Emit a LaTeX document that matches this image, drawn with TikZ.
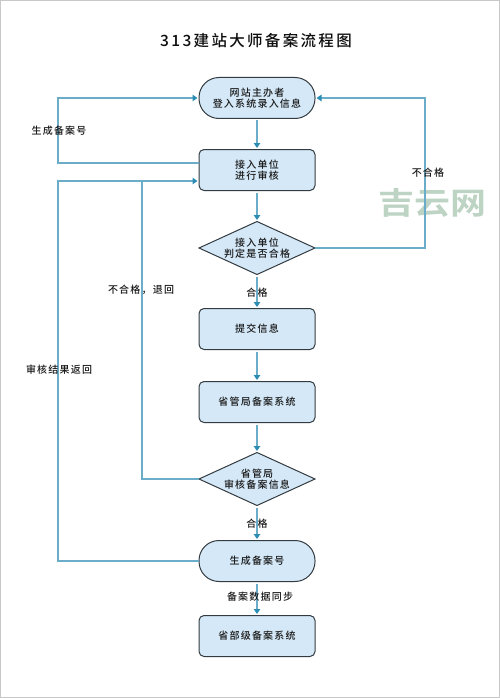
\documentclass[tikz,border=0pt]{standalone}
\usepackage{fontspec}
\setmainfont{Noto Sans CJK SC}
\newfontfamily\spacedfont[LetterSpace=12]{Noto Sans CJK SC Medium}
\newfontfamily\titlefont[LetterSpace=15]{Noto Sans CJK SC Medium}
\newfontfamily\markfont{Noto Sans CJK SC Bold}
\usetikzlibrary{arrows.meta,shapes.geometric,positioning}
\definecolor{linkc}{HTML}{6BADC8}
\definecolor{tipc}{HTML}{2C8DB4}
\definecolor{fillc}{HTML}{D4E8F7}
\definecolor{edgec}{HTML}{333B40}
\definecolor{markc}{HTML}{BDD3C3}
\definecolor{framec}{HTML}{C8C8C8}
\tikzset{
  x=1pt,y=-1pt,
  base/.style={draw=edgec,fill=fillc,line width=1pt,inner sep=0pt,outer sep=0pt,
    minimum width=116pt,minimum height=41pt,align=center,
    font=\spacedfont\fontsize{10}{10.5}\selectfont,text=black!90},
  terminal/.style={base,rounded corners=20pt},
  process/.style={base,rounded corners=5pt},
  decision/.style={base,diamond,aspect=2.19,minimum width=116pt,minimum height=53pt},
  dlabel/.style={align=center,inner sep=0pt,font=\spacedfont\fontsize{10}{10.5}\selectfont,text=black!90},
  tag/.style={inner sep=0pt,font=\spacedfont\fontsize{10}{12}\selectfont,text=black!90},
  link/.style={draw=linkc,line width=1.4pt},
  flow/.style={link,-{Triangle[length=5pt,width=6.5pt,color=tipc]},shorten >=1.5pt},
}
\begin{document}
\begin{tikzpicture}
\useasboundingbox (0,0) rectangle (500,698);
\draw[framec,line width=1pt] (0.5,0.5) rectangle (499.5,697.5);
\node[font=\markfont\fontsize{36}{36}\selectfont,text=markc,inner sep=0pt,yscale=0.85] (wm) at (432.5,202.5) {吉云网};
\node[font=\titlefont\fontsize{15.5}{18}\selectfont,text=black!95,inner sep=0pt] (title) at (256,41) {313建站大师备案流程图};
% nodes
\node[terminal] (t1) at (257,98) {网站主办者\\登入系统录入信息};
\node[process] (p1) at (257,170) {接入单位\\进行审核};
\node[decision] (d1) at (257,248) {};
\node[dlabel] (d1t) at (257,248) {接入单位\\判定是否合格};
\node[process] (p2) at (257,329) {提交信息};
\node[process] (p3) at (257,402) {省管局备案系统};
\node[decision] (d2) at (257,479) {};
\node[dlabel] (d2t) at (257,479) {省管局\\审核备案信息};
\node[terminal] (t2) at (257,561) {生成备案号};
\node[process] (p4) at (257,636) {省部级备案系统};
% free points
\coordinate (p1out) at (199,163);
\coordinate (p1in) at (199,181);
\coordinate (leftA) at (58,98);
\coordinate (leftB) at (58,163);
\coordinate (leftC) at (58,181);
\coordinate (leftD) at (58,561);
\coordinate (midA) at (142,181);
\coordinate (midB) at (142,479);
\coordinate (rightA) at (425,248);
\coordinate (rightB) at (425,98);
% connectors
\draw[flow,shorten <=2pt] (t1) -- (p1);
\draw[flow,shorten <=2pt] (p1) -- (d1);
\draw[flow,shorten <=2pt] (d1) -- (p2);
\draw[flow,shorten <=2pt] (p2) -- (p3);
\draw[flow,shorten <=2pt] (p3) -- (d2);
\draw[flow,shorten <=2pt] (d2) -- (t2);
\draw[flow,shorten <=2pt] (t2) -- (p4);
\draw[flow] (p1out) -- (leftB) -- (leftA) -- (t1.west);
\draw[flow] (d1.east) -- (rightA) -- (rightB) -- (t1.east);
\draw[link] (d2.west) -- (midB) -- (midA);
\draw[flow] (t2.west) -- (leftD) -- (leftC) -- (p1in);
% labels
\node[tag] (l1) at (59,131) {生成备案号};
\node[tag] (l2) at (428,173) {不合格};
\node[tag] (l3) at (141,290) {不合格，退回};
\node[tag] (l4) at (59,370) {审核结果返回};
\node[tag] (l5) at (257,293) {合格};
\node[tag] (l6) at (257,524) {合格};
\node[tag] (l7) at (260,597) {备案数据同步};
\end{tikzpicture}
\end{document}
